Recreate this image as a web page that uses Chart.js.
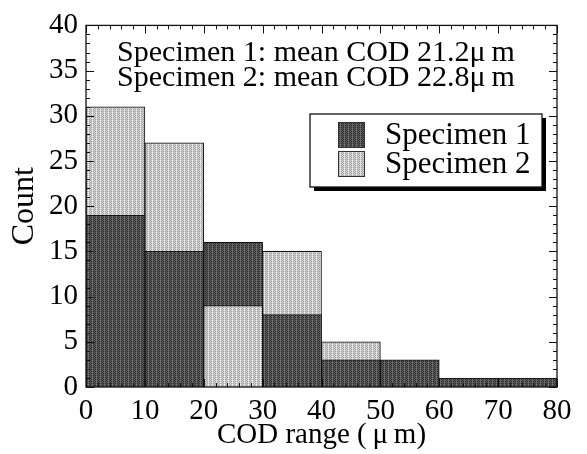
<!DOCTYPE html>
<html>
<head>
<meta charset="utf-8">
<script src="https://cdn.jsdelivr.net/npm/chart.js@4"></script>
<style>
  html, body { margin: 0; padding: 0; background: #fff; }
  #wrap { width: 587px; height: 454px; }
</style>
</head>
<body>
<div id="wrap"><canvas id="codChart" width="587" height="454"></canvas></div>
<script>
// datos
const binStarts = [0, 10, 20, 30, 40, 50, 60, 70];
const specimen1 = [19, 15, 16, 8, 3, 3, 1, 1];
const specimen2 = [31, 27, 9, 15, 5, 0, 0, 0];
const seriesLabels = ['Specimen 1', 'Specimen 2'];
const xTicks = [0, 10, 20, 30, 40, 50, 60, 70, 80];
const yTicks = [0, 5, 10, 15, 20, 25, 30, 35, 40];
const notes = ['Specimen 1: mean COD 21.2\u03bc\u2009m', 'Specimen 2: mean COD 22.8\u03bc\u2009m'];

const serif = "'Liberation Serif', 'DejaVu Serif', serif";

// texturas tramadas como en la figura original
function makePattern(a, b, c) {
    const t = document.createElement('canvas');
    t.width = 4; t.height = 4;
    const g = t.getContext('2d');
    for (let y = 0; y < 4; y++) {
        for (let x = 0; x < 4; x++) {
            let col = ((x + y) % 2 === 0) ? a : b;
            if (x === 0 && y % 2 === 0) col = c;
            g.fillStyle = col;
            g.fillRect(x, y, 1, 1);
        }
    }
    return document.getElementById('codChart').getContext('2d').createPattern(t, 'repeat');
}
const darkFill = makePattern('#2e2e2e', '#5c5c5c', '#7a7a7a');
const lightFill = makePattern('#a4a4a4', '#d2d2d2', '#f4f4f4');
const fills = [darkFill, lightFill];

// la barra mayor va detras, la menor delante
const backValues = specimen1.map((v, i) => Math.max(v, specimen2[i]));
const frontValues = specimen1.map((v, i) => {
    const m = Math.min(v, specimen2[i]);
    return m > 0 ? m : null;
});
const backColors = specimen1.map((v, i) => v >= specimen2[i] ? darkFill : lightFill);
const frontColors = specimen1.map((v, i) => v >= specimen2[i] ? lightFill : darkFill);

const frameTicks = {
    id: 'frameTicks',
    afterDatasetsDraw(chart) {
        const { ctx, chartArea: a, scales } = chart;
        const sx = scales.x, sy = scales.y;
        ctx.save();
        ctx.strokeStyle = '#111';
        ctx.lineWidth = 1;
        ctx.beginPath();
        for (let v = 0; v <= 80; v += 2) {
            const px = Math.round(sx.getPixelForValue(v)) + 0.5;
            const len = v % 10 === 0 ? 8 : 4;
            ctx.moveTo(px, a.bottom); ctx.lineTo(px, a.bottom - len);
            ctx.moveTo(px, a.top); ctx.lineTo(px, a.top + len);
        }
        for (let v = 0; v <= 40; v += 1) {
            const py = Math.round(sy.getPixelForValue(v)) + 0.5;
            const len = v % 5 === 0 ? 8 : 4;
            ctx.moveTo(a.left, py); ctx.lineTo(a.left + len, py);
            ctx.moveTo(a.right, py); ctx.lineTo(a.right - len, py);
        }
        ctx.stroke();
        ctx.lineWidth = 1.3;
        ctx.strokeRect(a.left, a.top, a.right - a.left, a.bottom - a.top);

        // texto de medias
        ctx.fillStyle = '#000';
        ctx.font = '30px ' + serif;
        ctx.textAlign = 'center';
        ctx.textBaseline = 'alphabetic';
        ctx.fillText(notes[0], 316, 61);
        ctx.fillText(notes[1], 316, 86);

        // leyenda con sombra
        const lx = 310, ly = 114, lw = 232, lh = 73;
        ctx.fillStyle = '#000';
        ctx.fillRect(lx + 4, ly + 4, lw, lh);
        ctx.fillStyle = '#fff';
        ctx.fillRect(lx, ly, lw, lh);
        ctx.lineWidth = 1.3;
        ctx.strokeRect(lx, ly, lw, lh);
        ctx.font = '31px ' + serif;
        ctx.textAlign = 'left';
        seriesLabels.forEach((lab, i) => {
            const top = 122 + i * 29;
            ctx.fillStyle = fills[i];
            ctx.fillRect(338, top, 27, 26);
            ctx.lineWidth = 1;
            ctx.strokeStyle = '#333';
            ctx.strokeRect(338.5, top + 0.5, 26, 25);
            ctx.fillStyle = '#000';
            ctx.fillText(lab, 385, top + 22);
        });
        ctx.restore();
    }
};

const ctx = document.getElementById('codChart').getContext('2d');
new Chart(ctx, {
    type: 'bar',
    data: {
        labels: binStarts.map(String),
        datasets: [
            {
                label: 'back',
                data: backValues,
                backgroundColor: backColors,
                borderColor: '#111',
                borderWidth: 1,
                xAxisID: 'xb',
                grouped: false,
                order: 2
            },
            {
                label: 'front',
                data: frontValues,
                backgroundColor: frontColors,
                borderColor: '#111',
                borderWidth: 1,
                xAxisID: 'xb',
                grouped: false,
                order: 1
            }
        ]
    },
    options: {
        responsive: false,
        animation: false,
        barPercentage: 1,
        categoryPercentage: 1,
        layout: { padding: { top: 21, right: 30, left: 0, bottom: 0 } },
        plugins: {
            legend: { display: false },
            tooltip: { enabled: false }
        },
        scales: {
            xb: {
                type: 'category',
                display: false,
                offset: true
            },
            x: {
                type: 'linear',
                position: 'bottom',
                offset: false,
                min: 0,
                max: 80,
                afterBuildTicks: (s) => { s.ticks = xTicks.map(v => ({ value: v })); },
                afterFit: (s) => { s.height = 67; },
                grid: { display: false, drawTicks: false, offset: false },
                border: { display: false },
                ticks: {
                    color: '#000',
                    font: { family: serif, size: 29 },
                    padding: 7,
                    maxRotation: 0
                },
                title: {
                    display: true,
                    text: 'COD range (\u2009\u03bc\u2009m)',
                    color: '#000',
                    font: { family: serif, size: 29 },
                    padding: { top: 0, bottom: 1 }
                }
            },
            y: {
                min: 0,
                max: 40,
                afterBuildTicks: (s) => { s.ticks = yTicks.map(v => ({ value: v })); },
                afterFit: (s) => { s.width = 86; },
                grid: { display: false, drawTicks: false },
                border: { display: false },
                ticks: {
                    color: '#000',
                    font: { family: serif, size: 29 },
                    padding: 8
                },
                title: {
                    display: true,
                    text: 'Count',
                    color: '#000',
                    font: { family: serif, size: 32 },
                    padding: { top: 5, bottom: 0 }
                }
            }
        }
    },
    plugins: [frameTicks]
});
</script>
</body>
</html>
